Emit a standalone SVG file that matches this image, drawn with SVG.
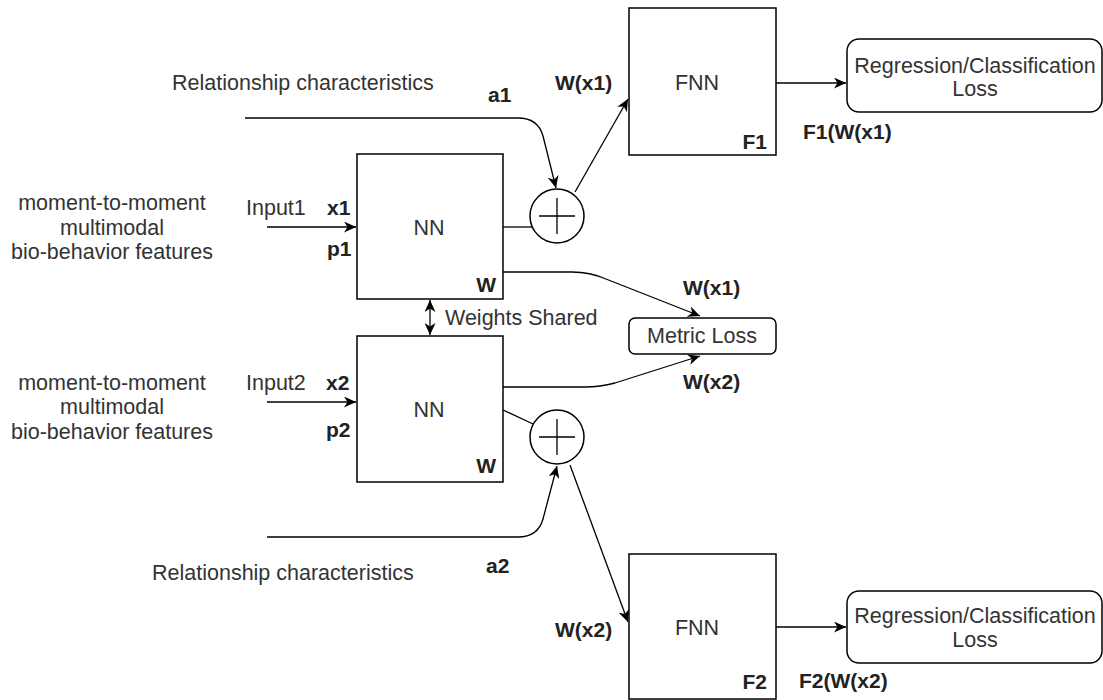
<svg xmlns="http://www.w3.org/2000/svg" width="1103" height="700" viewBox="0 0 1103 700">
<defs>
<marker id="arr" markerUnits="userSpaceOnUse" markerWidth="13" markerHeight="11" viewBox="0 0 13 11" refX="12" refY="5.5" orient="auto-start-reverse">
<path d="M0,0 L12,5.5 L0,11 L3.5,5.5 Z" fill="#000"/>
</marker>
</defs>
<style>
.box{fill:#fff;stroke:#000;stroke-width:1.5}
.ln{fill:none;stroke:#000;stroke-width:1.3}
.t{font-family:"Liberation Sans",Arial,sans-serif;font-size:21.5px;fill:#333}
.b{font-family:"Liberation Sans",Arial,sans-serif;font-size:21px;font-weight:bold;fill:#222}
.m{text-anchor:middle}
.e{text-anchor:end}
</style>
<rect width="1103" height="700" fill="#fff"/>

<g id="connectors">
<path class="ln" d="M245 118 L518 118 Q538 118 543 136 L556 188" marker-end="url(#arr)"/>
<path class="ln" d="M267 537 L518 537 Q538 537 543 519 L557 466" marker-end="url(#arr)"/>
<path class="ln" d="M575 192 L628 99" marker-end="url(#arr)"/>
<path class="ln" d="M570 465 L628 622" marker-end="url(#arr)"/>
<path class="ln" d="M503 227 L532 227"/>
<path class="ln" d="M503 410 L533 424"/>
<path class="ln" d="M503 272 L572 272 Q590 272 606 279 L700 316" marker-end="url(#arr)"/>
<path class="ln" d="M503 387 L585 387 Q600 387 615 383 L700 356" marker-end="url(#arr)"/>
<path class="ln" d="M430 300 L430 335" marker-start="url(#arr)" marker-end="url(#arr)"/>
<path class="ln" d="M776 83 L846 83" marker-end="url(#arr)"/>
<path class="ln" d="M776 627 L846 627" marker-end="url(#arr)"/>
<path class="ln" d="M267 227 L356 227" marker-end="url(#arr)"/>
<path class="ln" d="M267 402 L356 402" marker-end="url(#arr)"/>
</g>

<g id="input1-label">
<text class="t m" x="112" y="210">moment-to-moment</text>
<text class="t m" x="112" y="235">multimodal</text>
<text class="t m" x="112" y="259">bio-behavior features</text>
</g>
<g id="input2-label">
<text class="t m" x="112" y="390">moment-to-moment</text>
<text class="t m" x="112" y="414">multimodal</text>
<text class="t m" x="112" y="439">bio-behavior features</text>
</g>
<g id="rel1"><text class="t" x="172" y="90">Relationship characteristics</text></g>
<g id="rel2"><text class="t" x="152" y="580">Relationship characteristics</text></g>

<g id="nn1">
<rect class="box" x="357" y="154" width="146" height="145"/>
<text class="t m" x="429" y="235">NN</text>
<text class="b e" x="496" y="292">W</text>
</g>
<g id="nn2">
<rect class="box" x="357" y="336" width="146" height="146"/>
<text class="t m" x="429" y="417">NN</text>
<text class="b e" x="496" y="473">W</text>
</g>

<g id="plus1">
<circle class="box" cx="557" cy="216" r="27"/>
<path class="ln" d="M539 216 H575 M557 198 V234"/>
</g>
<g id="plus2">
<circle class="box" cx="557" cy="437" r="27"/>
<path class="ln" d="M539 437 H575 M557 419 V455"/>
</g>

<g id="fnn1">
<rect class="box" x="629" y="8" width="147" height="147"/>
<text class="t m" x="697" y="90">FNN</text>
<text class="b e" x="767" y="149">F1</text>
</g>
<g id="fnn2">
<rect class="box" x="629" y="554" width="147" height="145"/>
<text class="t m" x="697" y="635">FNN</text>
<text class="b e" x="767" y="689">F2</text>
</g>

<g id="loss1">
<rect class="box" x="847" y="39" width="255" height="73" rx="12"/>
<text class="t m" x="975" y="73">Regression/Classification</text>
<text class="t m" x="975" y="96">Loss</text>
</g>
<g id="loss2">
<rect class="box" x="847" y="591" width="255" height="72" rx="12"/>
<text class="t m" x="975" y="623">Regression/Classification</text>
<text class="t m" x="975" y="647">Loss</text>
</g>

<g id="metric">
<rect class="box" x="629" y="318" width="147" height="36" rx="6"/>
<text class="t m" x="702" y="343">Metric Loss</text>
</g>

<g id="labels">
<text class="b" x="488" y="102">a1</text>
<text class="b" x="486" y="573">a2</text>
<text class="b" x="555" y="90">W(x1)</text>
<text class="b" x="555" y="637">W(x2)</text>
<text class="t" x="246" y="215">Input1</text>
<text class="b" x="327" y="215">x1</text>
<text class="b" x="327" y="256">p1</text>
<text class="t" x="246" y="390">Input2</text>
<text class="b" x="326" y="390">x2</text>
<text class="b" x="326" y="437">p2</text>
<text class="t" x="445" y="325">Weights Shared</text>
<text class="b" x="683" y="295">W(x1)</text>
<text class="b" x="683" y="389">W(x2)</text>
<text class="b" x="803" y="139">F1(W(x1)</text>
<text class="b" x="799" y="688">F2(W(x2)</text>
</g>
</svg>
